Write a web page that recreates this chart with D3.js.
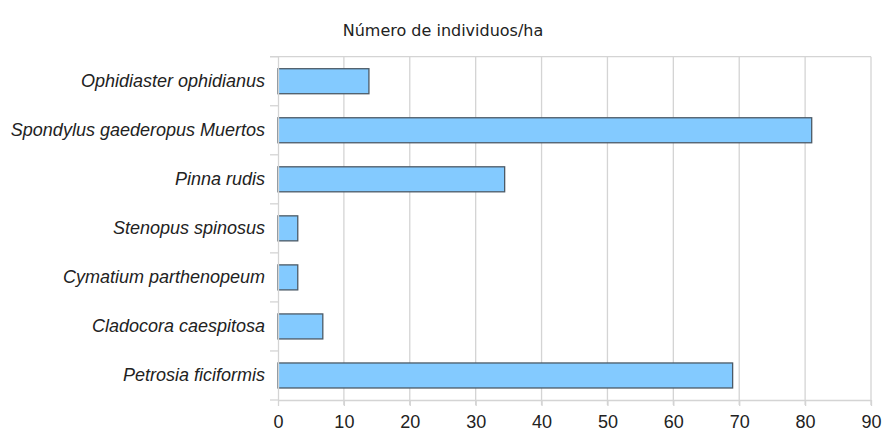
<!DOCTYPE html>
<html><head><meta charset="utf-8">
<script src="https://cdn.jsdelivr.net/npm/d3@7"></script>
<style>body{margin:0;background:#fff;}svg{display:block;}</style>
</head><body>
<script>
const categories = ["Ophidiaster ophidianus","Spondylus gaederopus Muertos","Pinna rudis","Stenopus spinosus","Cymatium parthenopeum","Cladocora caespitosa","Petrosia ficiformis"];
const values = [13.8, 81, 34.4, 3, 3, 6.8, 69];
const xTicks = [0,10,20,30,40,50,60,70,80,90];
const title = "Número de individuos/ha";

const W=883,H=431;
const m={left:278,right:12,top:56.7,bottom:31};
const svg=d3.select("body").append("svg").attr("width",W).attr("height",H);
const x=d3.scaleLinear().domain([0,90]).range([m.left,W-m.right]);
const y=d3.scaleBand().domain(categories).range([m.top,H-m.bottom]).paddingInner(0.49).paddingOuter(0.245);

// gridlines
svg.append("g").selectAll("line").data(xTicks.slice(1)).join("line")
 .attr("x1",d=>x(d)).attr("x2",d=>x(d)).attr("y1",m.top).attr("y2",H-m.bottom+5)
 .attr("stroke","#d4d4d4").attr("stroke-width",1.3);
// top border line
svg.append("line").attr("x1",m.left-8).attr("x2",x(90)).attr("y1",m.top).attr("y2",m.top).attr("stroke","#d4d4d4").attr("stroke-width",1.3);

// bars
svg.append("g").selectAll("rect").data(values).join("rect")
 .attr("x",x(0)).attr("y",(d,i)=>y(categories[i]))
 .attr("width",d=>x(d)-x(0)).attr("height",y.bandwidth())
 .attr("fill","#83caff").attr("stroke","#4c5a66").attr("stroke-width",1.3);

// x axis
const xa=svg.append("g").attr("transform",`translate(0,${H-m.bottom})`)
 .call(d3.axisBottom(x).tickValues(xTicks).tickSize(6).tickPadding(9).tickFormat(d3.format("d")));
xa.select(".domain").attr("stroke","#d4d4d4").attr("stroke-width",1.3).attr("d",`M${m.left},0.5H${x(90)}`);
xa.selectAll(".tick line").attr("stroke","#d4d4d4").attr("stroke-width",1.3);
xa.selectAll("text").attr("font-family","Liberation Sans, Arial, sans-serif").attr("font-size",18).attr("fill","#222");

// y axis
const ya=svg.append("g").attr("transform",`translate(${m.left},0)`)
 .call(d3.axisLeft(y).tickSize(0).tickPadding(13));
ya.select(".domain").attr("stroke","#d4d4d4").attr("stroke-width",1.3).attr("d",`M0.5,${m.top}V${H-m.bottom}`);
ya.selectAll("text").attr("font-family","Liberation Sans, Arial, sans-serif").attr("font-size",18).attr("font-style","italic").attr("fill","#222");
// category boundary ticks
const bounds=d3.range(categories.length+1).map(i=>m.top+i*(H-m.bottom-m.top)/categories.length);
svg.append("g").selectAll("line").data(bounds).join("line")
 .attr("x1",m.left-8).attr("x2",m.left).attr("y1",d=>d).attr("y2",d=>d)
 .attr("stroke","#d4d4d4").attr("stroke-width",1.3);

svg.append("text").attr("x",443).attr("y",36).attr("text-anchor","middle")
 .attr("font-family","DejaVu Sans, Verdana, sans-serif").attr("font-size",16).attr("fill","#222").text(title);
</script>
</body></html>
